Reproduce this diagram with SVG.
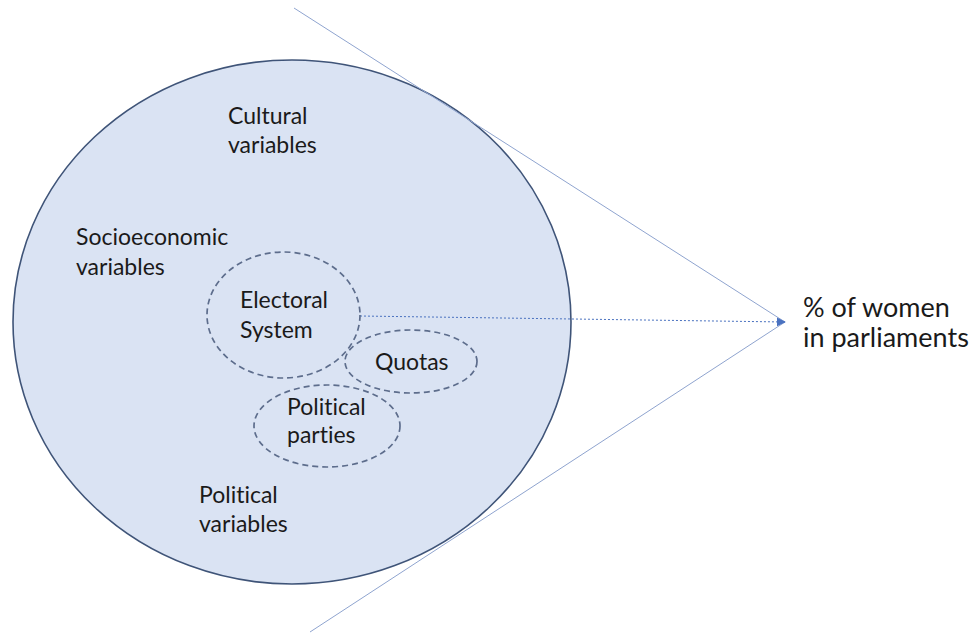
<svg xmlns="http://www.w3.org/2000/svg" width="978" height="633" viewBox="0 0 978 633">
  <defs>
    <style>
      .lbl { font-family: Lato, "Open Sans", "Liberation Sans", sans-serif; font-size: 23px; fill: #1a1a1a; font-variant-ligatures: none; font-feature-settings: "liga" 0, "clig" 0; }
      .big { font-size: 27px; }
      .ring { fill: none; stroke: #5d6d8c; stroke-width: 1.7; stroke-dasharray: 6 4; }
      .ray { stroke: #8fa4cf; stroke-width: 1; fill: none; }
      .link { stroke: #4a72c0; stroke-width: 1; stroke-dasharray: 2 2; fill: none; }
    </style>
    <marker id="tip" viewBox="0 0 10 10" refX="9" refY="5" markerWidth="9" markerHeight="9" markerUnits="userSpaceOnUse" orient="auto">
      <path d="M0,0 L10,5 L0,10 z" fill="#4a72c0"/>
    </marker>
  </defs>
  <rect width="978" height="633" fill="#ffffff"/>

  <!-- outer circle of contributing factors -->
  <g id="factors">
    <ellipse cx="292" cy="322" rx="279" ry="262" fill="#dae3f3" stroke="#3f5478" stroke-width="1.6"/>
    <text class="lbl" x="228" y="124">Cultural</text>
    <text class="lbl" x="228" y="153">variables</text>
    <text class="lbl" x="76" y="245">Socioeconomic</text>
    <text class="lbl" x="76" y="275">variables</text>
    <text class="lbl" x="199" y="503">Political</text>
    <text class="lbl" x="199" y="532">variables</text>
  </g>

  <!-- connectors -->
  <g id="connectors">
    <line class="ray" x1="294" y1="8" x2="785" y2="322"/>
    <line class="ray" x1="310" y1="632" x2="785" y2="322"/>
    <line class="link" x1="360" y1="316" x2="785" y2="322" marker-end="url(#tip)"/>
  </g>

  <g id="electoral-system">
    <ellipse class="ring" cx="283.5" cy="315" rx="76.5" ry="63"/>
    <text class="lbl" x="240" y="308">Electoral</text>
    <text class="lbl" x="240" y="338">System</text>
  </g>

  <g id="quotas">
    <ellipse class="ring" cx="411" cy="361.5" rx="66" ry="31.5"/>
    <text class="lbl" x="375" y="370">Quotas</text>
  </g>

  <g id="political-parties">
    <ellipse class="ring" cx="327" cy="426" rx="73" ry="41"/>
    <text class="lbl" x="287" y="415">Political</text>
    <text class="lbl" x="287" y="443">parties</text>
  </g>

  <g id="outcome">
    <text class="lbl big" x="803" y="317">% of women</text>
    <text class="lbl big" x="803" y="347">in parliaments</text>
  </g>
</svg>
